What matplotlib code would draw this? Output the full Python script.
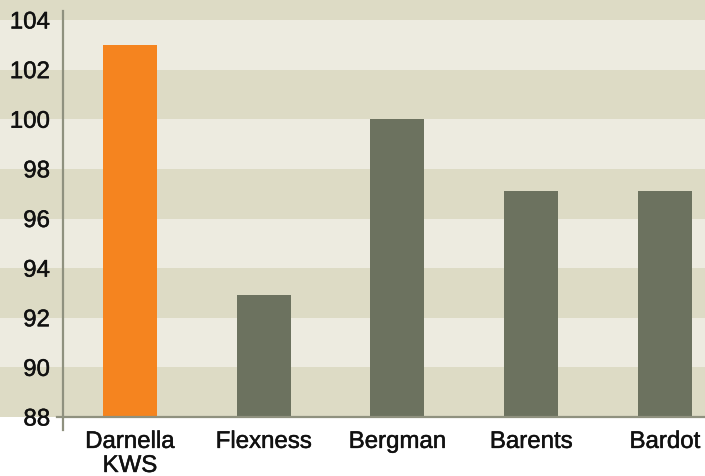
import matplotlib
matplotlib.use("Agg")
import matplotlib.pyplot as plt
from matplotlib.lines import Line2D
import matplotlib.patheffects as pe
import numpy as np

categories = ["Darnella\nKWS", "Flexness", "Bergman", "Barents", "Bardot"]
values = [103.0, 92.9, 100.0, 97.1, 97.1]
bar_colors = ["#F5841F", "#6C725F", "#6C725F", "#6C725F", "#6C725F"]
yticks = [88, 90, 92, 94, 96, 98, 100, 102, 104]

plt.rcParams['font.family'] = ['Liberation Sans', 'DejaVu Sans']

W, H = 705, 477
fig = plt.figure(figsize=(W / 100, H / 100), dpi=100)
left_px, base_px = 63, 418
ax = fig.add_axes([left_px / W, (H - base_px) / H, (W - left_px) / W, base_px / H])

ppu = (418 - 21) / 16.0
ytop = 88 + base_px / ppu
ax.set_ylim(88, ytop)
ax.set_xlim(-0.5, 4.3)

light = "#EDEBE0"
dark = "#DDDBC5"
xmin_ext = -left_px / (W - left_px)
lo = 88
i = 0
while lo < ytop:
    col = dark if i % 2 == 0 else light
    ax.axhspan(lo, min(lo + 2, ytop), xmin=xmin_ext, xmax=1, color=col, lw=0,
               zorder=0, clip_on=False)
    lo += 2
    i += 1

x = np.arange(len(categories))
ax.bar(x, [v - 88 for v in values], bottom=88, width=0.403, color=bar_colors, zorder=2)

for s in ax.spines.values():
    s.set_visible(False)

txtcol = "#111111"
ax.set_yticks(yticks)
ax.set_yticklabels([str(t) for t in yticks])
ax.set_xticks(x)
ax.set_xticklabels(categories, linespacing=1.12)
ax.tick_params(axis='y', length=0, pad=9.4, labelsize=17.3, labelcolor=txtcol)
ax.tick_params(axis='x', length=0, pad=10, labelsize=17.3, labelcolor=txtcol)
for lab in ax.get_xticklabels() + ax.get_yticklabels():
    lab.set_path_effects([pe.withStroke(linewidth=0.35, foreground=txtcol)])

axis_col = "#8F917F"
fig.add_artist(Line2D([left_px / W, left_px / W], [(H - 431) / H, (H - 12) / H],
                      color=axis_col, lw=1.6, transform=fig.transFigure))
fig.add_artist(Line2D([57 / W, 1.0], [(H - base_px) / H, (H - base_px) / H],
                      color=axis_col, lw=1.6, transform=fig.transFigure))

fig.savefig("out.png", dpi=100)
